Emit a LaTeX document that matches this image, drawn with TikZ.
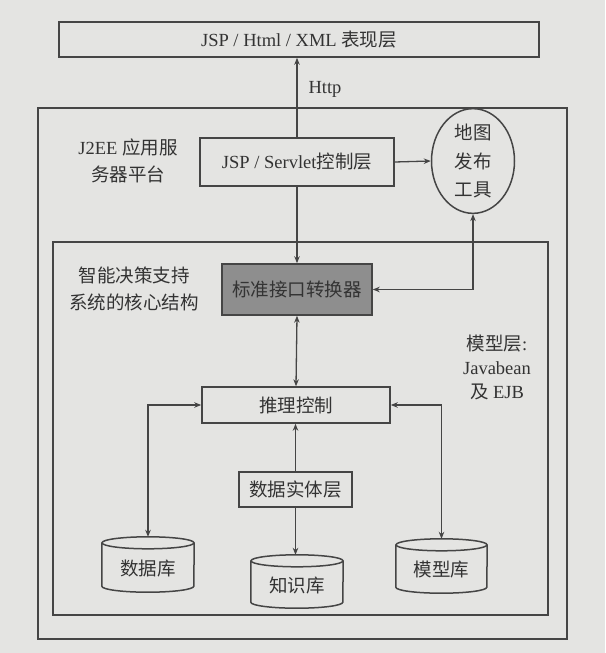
\documentclass[tikz,border=0pt]{standalone}
\usepackage{fontspec}
\setmainfont{Liberation Serif}
\newfontfamily\cjk{Noto Sans CJK SC}
\usetikzlibrary{shapes.geometric,arrows.meta,calc}
\definecolor{bgc}{HTML}{E4E4E2}
\definecolor{lnc}{HTML}{454545}
\definecolor{txc}{HTML}{333333}
\definecolor{convc}{HTML}{8E8E8E}
\begin{document}
\begin{tikzpicture}[x=1pt,y=-1pt,
  every node/.style={text=txc,font=\fontsize{18.5}{27}\selectfont},
  ln/.style={draw=lnc,line width=1.5pt},
  boxn/.style={ln,rectangle,inner sep=0pt},
  framen/.style={ln,rectangle,inner sep=0pt},
  cylbox/.style={rectangle,inner sep=0pt},
  lbl/.style={align=center,inner sep=0pt},
  tip/.tip={Stealth[length=7pt,width=5.5pt]},
  arr/.style={draw=lnc,line width=1.3pt,-tip},
  darr/.style={draw=lnc,line width=1.3pt,tip-tip}
]
\fill[bgc] (0,0) rectangle (605,653);
\useasboundingbox (0,0) rectangle (605,653);

% frames
\node[framen,minimum width=529,minimum height=531] (outer) at (302.5,373.5) {};
\node[framen,minimum width=495,minimum height=373] (inner) at (300.5,428.5) {};

% boxes
\node[boxn,minimum width=480,minimum height=35] (top) at (299,39.5) {JSP / Html / XML {\cjk 表现层}};
\node[boxn,minimum width=194,minimum height=48] (jsp) at (297,162) {JSP / Servlet{\cjk 控制层}};
\node[ln,ellipse,minimum width=83,minimum height=88,inner sep=0pt,align=center,font=\fontsize{18.5}{28.5}\selectfont\cjk] (map) at (473,161) {地图\\发布\\工具};
\node[boxn,fill=convc,minimum width=150,minimum height=51,font=\fontsize{18.5}{27}\selectfont\cjk] (conv) at (297,289.5) {标准接口转换器};
\node[boxn,minimum width=188,minimum height=36,font=\fontsize{18.5}{27}\selectfont\cjk] (infer) at (296,405) {推理控制};
\node[boxn,minimum width=113,minimum height=35,font=\fontsize{18.5}{27}\selectfont\cjk] (entity) at (295.5,489.5) {数据实体层};

% cylinders (bounding boxes)
\node[cylbox,minimum width=92,minimum height=55] (db) at (148,564.5) {};
\node[cylbox,minimum width=92,minimum height=53] (kb) at (297,581.5) {};
\node[cylbox,minimum width=91,minimum height=54] (mb) at (441.5,566) {};
\foreach \c/\r in {db/46,kb/46,mb/45.5}{
  \draw[ln] ($(\c.north west)+(0,6)$) -- ($(\c.south west)+(0,-6)$)
     arc[start angle=180,end angle=0,x radius=\r,y radius=6]
     -- ($(\c.north east)+(0,6)$);
  \draw[ln] ($(\c.north)+(0,6)$) ellipse[x radius=\r,y radius=6];
}
\node[font=\fontsize{18.5}{27}\selectfont\cjk] (dbt) at ($(db.center)+(0,4)$) {数据库};
\node[font=\fontsize{18.5}{27}\selectfont\cjk] (kbt) at ($(kb.center)+(0,4)$) {知识库};
\node[font=\fontsize{18.5}{27}\selectfont\cjk] (mbt) at ($(mb.center)+(0,4)$) {模型库};

% labels
\node[lbl] (http) at (325,89) {Http};
\node[lbl] (j2ee) at (128,161) {J2EE {\cjk 应用服}\\{\cjk 务器平台}};
\node[lbl,font=\fontsize{18.5}{27}\selectfont\cjk] (core) at (134,289) {智能决策支持\\系统的核心结构};
\node[lbl,font=\fontsize{18.5}{24}\selectfont] (model) at (497,367) {{\cjk 模型层}:\\Javabean\\{\cjk 及} EJB};

% connectors
\draw[arr] (jsp.north) -- (jsp.north |- top.south);
\draw[arr] (jsp.east) -- (map.west);
\draw[arr] (jsp.south) -- (conv.north);
\draw[darr] (map.south) |- (conv.east);
\draw[darr] (conv.south) -- (infer.north);
\draw[darr] (infer.west) -| (db.north);
\draw[darr] (infer.east) -| (mb.north);
\draw[arr] (entity.north) -- (entity.north |- infer.south);
\draw[arr] (entity.south) -- (entity.south |- kb.north);
\end{tikzpicture}
\end{document}
